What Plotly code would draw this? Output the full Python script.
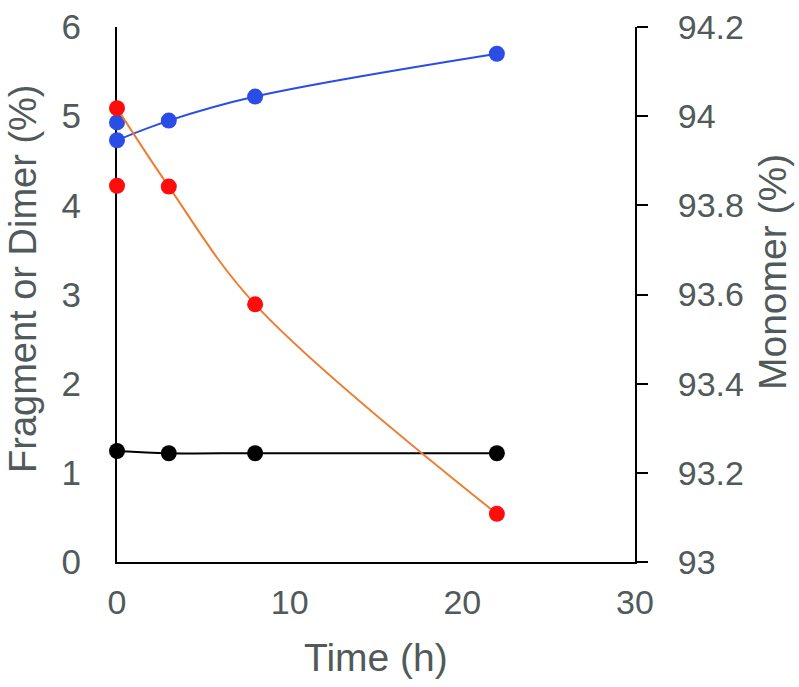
import plotly.graph_objects as go

# Data
time_h = [0, 3, 8, 22]
dimer_pct = [4.73, 4.95, 5.22, 5.70]          # left axis (blue)
fragment_pct = [1.245, 1.22, 1.22, 1.22]      # left axis (black)
monomer_pct = [94.018, 93.842, 93.578, 93.108]  # right axis (red/orange)
rep_time = [0]
dimer_rep = [4.93]
monomer_rep = [93.844]

x_ticks = [0, 10, 20, 30]
y_left_ticks = [0, 1, 2, 3, 4, 5, 6]
y_right_ticks = [93, 93.2, 93.4, 93.6, 93.8, 94, 94.2]
y_right_labels = ["93", "93.2", "93.4", "93.6", "93.8", "94", "94.2"]

BLUE = "#2a4de6"
RED = "#ff0d0d"
ORANGE = "#ed7d31"
TXT = "#505a5a"
FONT = "Liberation Sans, Arial, sans-serif"

fig = go.Figure()

fig.add_trace(go.Scatter(x=time_h, y=fragment_pct, mode="lines+markers",
                         line=dict(color="black", width=2, shape="spline", smoothing=1),
                         marker=dict(color="black", size=16), cliponaxis=False,
                         showlegend=False))
fig.add_trace(go.Scatter(x=time_h, y=dimer_pct, mode="lines+markers",
                         line=dict(color=BLUE, width=2, shape="spline", smoothing=1),
                         marker=dict(color=BLUE, size=16), cliponaxis=False,
                         showlegend=False))
fig.add_trace(go.Scatter(x=rep_time, y=dimer_rep, mode="markers",
                         marker=dict(color=BLUE, size=16), cliponaxis=False,
                         showlegend=False))
fig.add_trace(go.Scatter(x=time_h, y=monomer_pct, mode="lines", yaxis="y2",
                         line=dict(color=ORANGE, width=2, shape="spline", smoothing=1),
                         cliponaxis=False, showlegend=False))
fig.add_trace(go.Scatter(x=time_h + rep_time, y=monomer_pct + monomer_rep, mode="markers",
                         yaxis="y2", marker=dict(color=RED, size=16), cliponaxis=False,
                         showlegend=False))

title_font = dict(family=FONT, size=39, color=TXT)

fig.update_layout(
    width=799, height=687,
    margin=dict(l=117, r=164, t=27, b=125, autoexpand=False),
    paper_bgcolor="white", plot_bgcolor="white",
    font=dict(family=FONT, color=TXT),
    xaxis=dict(range=[0, 30], tickvals=x_ticks, showgrid=False, zeroline=False,
               showline=True, linecolor="black", linewidth=2, ticks="",
               automargin=False, ticklabelstandoff=9, ticklabeloverflow="allow",
               tickfont=dict(size=34, color=TXT), layer="below traces"),
    yaxis=dict(range=[0, 6], tickvals=y_left_ticks, showgrid=False, zeroline=False,
               showline=True, linecolor="black", linewidth=2, ticks="",
               automargin=False, ticklabelstandoff=27, ticklabeloverflow="allow",
               tickfont=dict(size=35, color=TXT), layer="below traces"),
    yaxis2=dict(range=[93, 94.2], tickvals=y_right_ticks, ticktext=y_right_labels,
                overlaying="y", side="right", showgrid=False, zeroline=False,
                showline=True, linecolor="black", linewidth=2, automargin=False,
                ticks="outside", ticklen=11, tickwidth=2, tickcolor="black",
                ticklabelstandoff=23, ticklabeloverflow="allow",
                tickfont=dict(size=34, color=TXT), layer="below traces"),
    annotations=[
        dict(text="Time (h)", xref="paper", yref="paper", x=0.5, y=0,
             xanchor="center", yanchor="middle", yshift=-95, showarrow=False,
             font=title_font),
        dict(text="Fragment or Dimer (%)", xref="paper", yref="paper", x=0, y=0.529,
             xanchor="center", yanchor="middle", xshift=-94, textangle=-90,
             showarrow=False, font=dict(family=FONT, size=38, color=TXT)),
        dict(text="Monomer (%)", xref="paper", yref="paper", x=1, y=0.542,
             xanchor="center", yanchor="middle", xshift=137, textangle=-90,
             showarrow=False, font=title_font),
    ],
)

fig.write_html("out.html", config={"displayModeBar": False},
               post_script="document.body.style.margin='0px';")
